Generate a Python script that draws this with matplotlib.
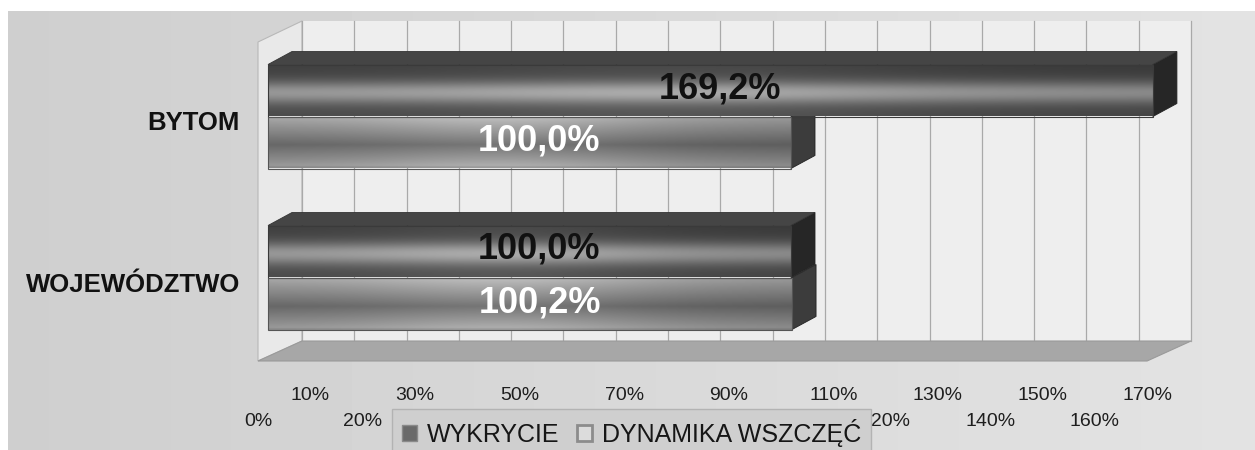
import numpy as np
import matplotlib
matplotlib.use('Agg')
import matplotlib.pyplot as plt
from matplotlib.patches import Polygon, Patch

plt.rcParams['font.family'] = ['Liberation Sans', 'DejaVu Sans']

# ---------------- data ----------------
categories = ['BYTOM', 'WOJEWÓDZTWO']
series_names = ['WYKRYCIE', 'DYNAMIKA WSZCZĘĆ']
wykrycie = [169.2, 100.0]
dynamika = [100.0, 100.2]
odd_ticks = [10, 30, 50, 70, 90, 110, 130, 150, 170]
even_ticks = [0, 20, 40, 60, 80, 100, 120, 140, 160]
axis_max = 170

# ---------------- layout ----------------
W, H = 1255, 450
SX = 5.23      # pixels per percent
SY = 161.0     # pixels per category step
X0 = 268.0     # pixel of 0 % on the bar plane
Y0 = 116.5     # pixel of first category centre


def px_x(p):
    return (p - X0) / SX


def px_y(p):
    return (p - Y0) / SY


def ddx(p):
    return p / SX


def ddy(p):
    return p / SY


fig = plt.figure(figsize=(W / 100, H / 100), dpi=100)
fig.patch.set_facecolor('white')
ax = fig.add_axes([0, 0, 1, 1])
ax.set_axis_off()

# background panel (gradient)
grad = np.linspace(0.81, 0.89, 256)[None, :] * np.ones((8, 1))
ax.imshow(grad, cmap='gray', vmin=0, vmax=1, aspect='auto', interpolation='bicubic',
          extent=(px_x(8), px_x(W), px_y(H), px_y(11)), zorder=0)

# depth offsets
floor_front_dx = ddx(-10)
back_dx = ddx(34)
floor_front_y = px_y(361)
floor_back_y = px_y(341)
wall_top_y = px_y(21)
side_top_front_y = px_y(42)

# back wall
ax.add_patch(Polygon([(back_dx, wall_top_y), (axis_max + back_dx, wall_top_y),
                      (axis_max + back_dx, floor_back_y), (back_dx, floor_back_y)],
                     closed=True, facecolor='#eeeeee', edgecolor='none', zorder=1))
# side wall
ax.add_patch(Polygon([(floor_front_dx, side_top_front_y), (back_dx, wall_top_y),
                      (back_dx, floor_back_y), (floor_front_dx, floor_front_y)],
                     closed=True, facecolor='#e9e9e9', edgecolor='#b8b8b8', lw=0.8, zorder=1))
# gridlines on back wall
for v in range(0, axis_max + 1, 10):
    ax.plot([v + back_dx, v + back_dx], [wall_top_y, floor_back_y], color='#a9a9a9',
            lw=0.9, zorder=1.2)
# floor
ax.add_patch(Polygon([(floor_front_dx, floor_front_y), (axis_max + floor_front_dx, floor_front_y),
                      (axis_max + back_dx, floor_back_y), (back_dx, floor_back_y)],
                     closed=True, facecolor='#a7a7a7', edgecolor='#9a9a9a', lw=0.8, zorder=1.5))

# ---------------- bars ----------------
bar_h = ddy(52)
bdx, bdy = ddx(24), ddy(-13)
ypos = np.arange(len(categories))
y_wyk = ypos - bar_h / 2
y_dyn = ypos + bar_h / 2

bars_w = ax.barh(y_wyk, wykrycie, height=bar_h, color='none', edgecolor='#3a3a3a',
                 lw=0.8, zorder=4)
bars_d = ax.barh(y_dyn, dynamika, height=bar_h, color='none', edgecolor='#555555',
                 lw=0.8, zorder=4)

# vertical shading profiles (top -> bottom)
t = np.linspace(0, 1, 120)
prof_w = 0.25 + 0.31 * np.exp(-((t - 0.55) / 0.22) ** 2) + 0.04 * t
prof_d = 0.38 + 0.26 * np.abs(t - 0.55) / 0.55 + 0.02
prof_d[-4:] -= 0.08


def shade(bars, prof, side_col, top_col, draw_top):
    for b in bars:
        x0, y0 = b.get_x(), b.get_y()
        w, h = b.get_width(), b.get_height()
        xs = np.linspace(0, 1, 200)
        horiz = 1.0 + 0.18 * np.exp(-((xs - 0.45) / 0.28) ** 2) - 0.08 * xs
        img = np.clip(prof[:, None] * horiz[None, :], 0, 1)
        im = ax.imshow(img, cmap='gray', vmin=0, vmax=1, aspect='auto',
                       interpolation='bicubic', origin='upper',
                       extent=(x0, x0 + w, y0 + h, y0), zorder=3)
        im.set_clip_path(b)
        # right side face
        ax.add_patch(Polygon([(x0 + w, y0), (x0 + w + bdx, y0 + bdy),
                              (x0 + w + bdx, y0 + h + bdy), (x0 + w, y0 + h)],
                             closed=True, facecolor=side_col, edgecolor='#222222',
                             lw=0.6, zorder=2.5))
        if draw_top:
            ax.add_patch(Polygon([(x0, y0), (x0 + w, y0), (x0 + w + bdx, y0 + bdy),
                                  (x0 + bdx, y0 + bdy)],
                                 closed=True, facecolor=top_col, edgecolor='#333333',
                                 lw=0.6, zorder=2.6))


shade(bars_d, prof_d, '#3c3c3c', '#6a6a6a', False)
shade(bars_w, prof_w, '#262626', '#454545', True)


# value labels
def fmt(v):
    return f'{v:.1f}%'.replace('.', ',')


for yy, v in zip(y_wyk, wykrycie):
    ax.text(v / 2 + ddx(10), yy - ddy(2), fmt(v), ha='center', va='center', fontsize=26,
            fontweight='bold', color='#111111', zorder=6)
for yy, v in zip(y_dyn, dynamika):
    ax.text(v / 2 + ddx(10), yy - ddy(1), fmt(v), ha='center', va='center', fontsize=26,
            fontweight='bold', color='white', zorder=6)

# category labels
for yy, c in zip(ypos, categories):
    ax.text(px_x(240), yy + ddy(7), c, ha='right', va='center', fontsize=18.5,
            fontweight='bold', color='#111111')

# x tick labels (staggered rows)
for v in odd_ticks:
    ax.text(v + floor_front_dx, px_y(396), f'{v}%', ha='center', va='center',
            fontsize=14, color='#1e1e1e')
for v in even_ticks:
    ax.text(v + floor_front_dx, px_y(422), f'{v}%', ha='center', va='center',
            fontsize=14, color='#1e1e1e', zorder=0.5)

ax.set_xlim(px_x(0), px_x(W))
ax.set_ylim(px_y(H), px_y(0))

# legend
handles = [Patch(facecolor='#6a6a6a', edgecolor='#8a8a8a', lw=1.0),
           Patch(facecolor='#dcdcdc', edgecolor='#8c8c8c', lw=2.0)]
leg = fig.legend(handles, series_names, loc='upper left',
                 bbox_to_anchor=(392 / W, 1 - 409 / H), ncol=2, frameon=True,
                 fontsize=18, facecolor='#cfcfcf', edgecolor='#b3b3b3', framealpha=1,
                 fancybox=False, handlelength=0.6, handleheight=0.6, handletextpad=0.4,
                 columnspacing=0.7, borderpad=0.4, borderaxespad=0)
leg.set_zorder(10)
for txt in leg.get_texts():
    txt.set_color('#161616')

fig.savefig('out.png', dpi=100, facecolor=fig.get_facecolor())
